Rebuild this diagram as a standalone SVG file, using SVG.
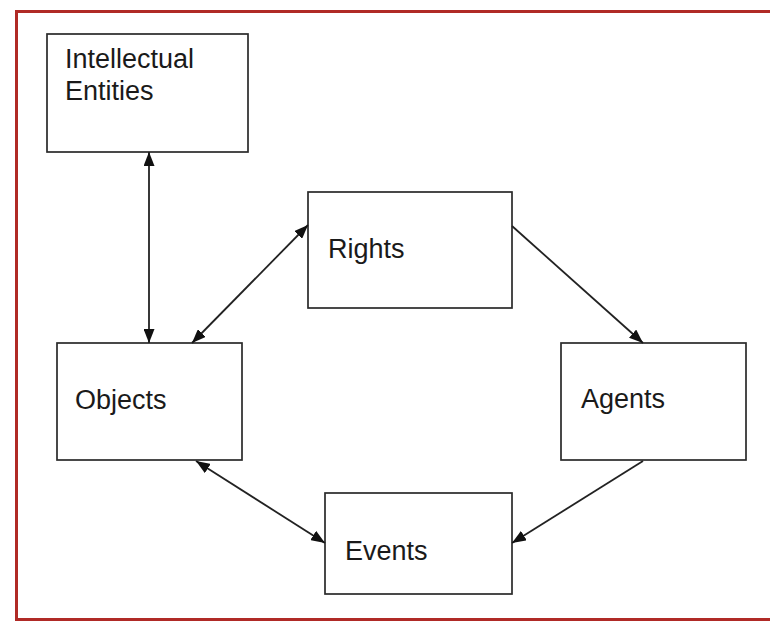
<svg xmlns="http://www.w3.org/2000/svg" width="770" height="621" viewBox="0 0 770 621">
<defs>
<style>
.box{fill:#fff;stroke:#2a2a2a;stroke-width:1.7}
.lbl{font-family:"Liberation Sans",Arial,sans-serif;font-size:27px;fill:#1a1a1a}
.conn{stroke:#222;stroke-width:1.8;fill:none}
</style>
<marker id="ah" viewBox="0 0 14 11" refX="14" refY="5.5" markerWidth="14" markerHeight="11" markerUnits="userSpaceOnUse" orient="auto-start-reverse">
<path d="M0,0 L14,5.5 L0,11 z" fill="#111"/>
</marker>
</defs>
<rect x="0" y="0" width="770" height="621" fill="#fff"/>
<path d="M772,11.5 H16.5 V619.5 H772" fill="none" stroke="#b02a26" stroke-width="3"/>
<g id="intellectual-entities">
<rect class="box" x="47" y="34" width="201" height="118"/>
<text class="lbl" x="65" y="68">Intellectual</text>
<text class="lbl" x="65" y="100">Entities</text>
</g>
<g id="rights">
<rect class="box" x="308" y="192" width="204" height="116"/>
<text class="lbl" x="328" y="258">Rights</text>
</g>
<g id="objects">
<rect class="box" x="57" y="343" width="185" height="117"/>
<text class="lbl" x="75" y="409">Objects</text>
</g>
<g id="agents">
<rect class="box" x="561" y="343" width="185" height="117"/>
<text class="lbl" x="581" y="408">Agents</text>
</g>
<g id="events">
<rect class="box" x="325" y="493" width="187" height="101"/>
<text class="lbl" x="345" y="560">Events</text>
</g>
<g id="connectors">
<line class="conn" x1="149" y1="152" x2="149" y2="343" marker-start="url(#ah)" marker-end="url(#ah)"/>
<line class="conn" x1="192" y1="343" x2="308" y2="225" marker-start="url(#ah)" marker-end="url(#ah)"/>
<line class="conn" x1="512" y1="226" x2="643" y2="343" marker-end="url(#ah)"/>
<line class="conn" x1="643" y1="461" x2="512" y2="543" marker-end="url(#ah)"/>
<line class="conn" x1="196" y1="461" x2="325" y2="543" marker-start="url(#ah)" marker-end="url(#ah)"/>
</g>
</svg>
